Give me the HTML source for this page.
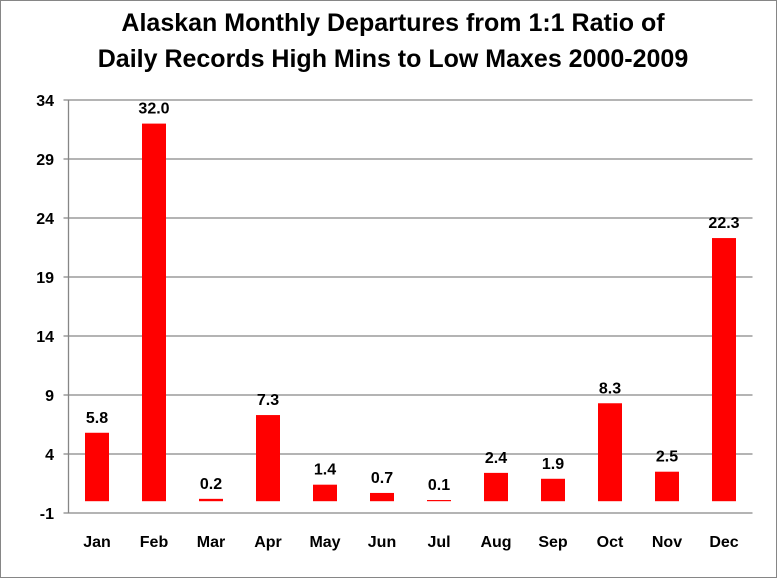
<!DOCTYPE html>
<html><head><meta charset="utf-8"><style>
html,body{margin:0;padding:0;background:#fff;}
svg{display:block;font-family:"Liberation Sans",Arial,sans-serif;}
</style></head><body>
<svg id="chart" width="777" height="578" viewBox="0 0 777 578" xmlns="http://www.w3.org/2000/svg">
<rect x="0.5" y="0.5" width="776" height="577" fill="#fff" stroke="#868686" stroke-width="1"/>
<text x="393" y="31" text-anchor="middle" font-size="25" font-weight="bold" fill="#000">Alaskan Monthly Departures from 1:1 Ratio of</text>
<text x="393" y="67" text-anchor="middle" font-size="25" font-weight="bold" fill="#000">Daily Records High Mins to Low Maxes 2000-2009</text>
<g id="grid"></g>
<g id="yticks"></g>
<g id="bars"></g>
<g id="xlabels"></g>
</svg>
<script>
const months = ["Jan","Feb","Mar","Apr","May","Jun","Jul","Aug","Sep","Oct","Nov","Dec"];
const values = [5.8,32.0,0.2,7.3,1.4,0.7,0.1,2.4,1.9,8.3,2.5,22.3];
const valueLabels = ["5.8","32.0","0.2","7.3","1.4","0.7","0.1","2.4","1.9","8.3","2.5","22.3"];
const yTicks = [-1,4,9,14,19,24,29,34];

const NS="http://www.w3.org/2000/svg";
const plotLeft=68.5, plotRight=752.5, yMin=-1, yMax=34, plotTop=100, plotBottom=513;
function yScale(v){return plotBottom-(v-yMin)/(yMax-yMin)*(plotBottom-plotTop);}
const band=(plotRight-plotLeft)/months.length;
function xc(i){return plotLeft+band*(i+0.5);}
function mk(tag,attrs,parent){const e=document.createElementNS(NS,tag);for(const k in attrs)e.setAttribute(k,attrs[k]);parent.appendChild(e);return e;}

const grid=document.getElementById('grid');
const yt=document.getElementById('yticks');
yTicks.forEach(t=>{
  const l=mk('line',{x1:plotLeft-5,x2:plotRight,y1:yScale(t),y2:yScale(t),stroke:'#868686','stroke-width':1.3},grid);
  
  
  const tx=mk('text',{x:54,y:yScale(t)+6,'text-anchor':'end','font-size':16,'font-weight':'bold',fill:'#000'},yt);
  tx.textContent=t;
  
  
});
const ax=mk('line',{x1:plotLeft,x2:plotLeft,y1:plotTop,y2:plotBottom,stroke:'#868686','stroke-width':1.3},grid);



const bars=document.getElementById('bars');
const xl=document.getElementById('xlabels');
const bw=24;
values.forEach((v,i)=>{
  const y0=yScale(0), y1=yScale(v);
  const r=mk('rect',{x:xc(i)-bw/2,y:Math.min(y0,y1),width:bw,height:Math.max(Math.abs(y0-y1),0.5),fill:'#ff0000'},bars);
  
  
  const t=mk('text',{x:xc(i),y:Math.min(y0,y1)-10,'text-anchor':'middle','font-size':16,'font-weight':'bold',fill:'#000'},bars);
  t.textContent=valueLabels[i];
  
  
  const m=mk('text',{x:xc(i),y:547,'text-anchor':'middle','font-size':16,'font-weight':'bold',fill:'#000'},xl);
  m.textContent=months[i];
  
  
});
</script>
</body></html>
